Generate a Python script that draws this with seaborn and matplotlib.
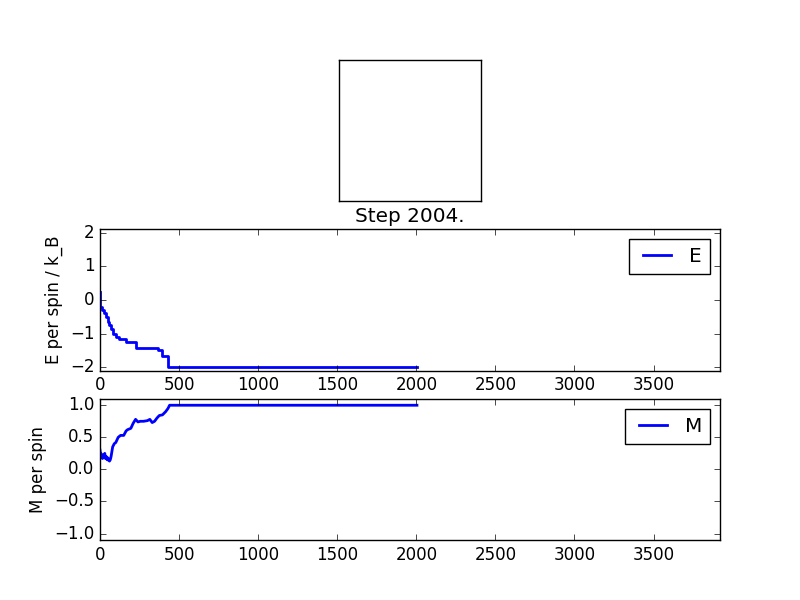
import numpy as np
import matplotlib
matplotlib.use("Agg")
import matplotlib.pyplot as plt
import seaborn as sns

e_steps = [0, 3, 12, 25, 35, 48, 60, 70, 82, 100, 122, 164, 225, 368, 392, 427, 2004]
e_values = [0.24, -0.2, -0.3, -0.4, -0.5, -0.65, -0.75, -0.85, -1.0, -1.09, -1.16,
            -1.24, -1.42, -1.5, -1.68, -2.0, -2.0]

# Magnetisation per spin
m_steps = [0, 5, 10, 15, 20, 25, 30, 35, 40, 45, 50, 55, 60, 65, 70, 80, 90, 100,
           115, 130, 150, 165, 175, 195, 210, 225, 240, 255, 275, 300, 315, 330,
           345, 360, 375, 395, 415, 430, 440, 2004]
m_values = [0.30, 0.20, 0.24, 0.17, 0.22, 0.18, 0.25, 0.17, 0.20, 0.15, 0.18, 0.14,
            0.13, 0.15, 0.20, 0.35, 0.40, 0.42, 0.50, 0.53, 0.53, 0.60, 0.62, 0.64,
            0.72, 0.78, 0.74, 0.75, 0.75, 0.76, 0.78, 0.73, 0.75, 0.80, 0.84, 0.85,
            0.90, 0.95, 1.0, 1.0]

# Final lattice: all spins up
spins = np.ones((20, 20))
step = 2004

plt.style.use("classic")
fig = plt.figure(figsize=(8, 6), dpi=100)

# lattice picture
ax1 = fig.add_subplot(3, 1, 1)
ax1.imshow(spins, cmap="gray", vmin=-1, vmax=1, interpolation="nearest")
ax1.set_xticks([])
ax1.set_yticks([])

# energy
ax2 = fig.add_subplot(3, 1, 2)
sns.lineplot(x=e_steps, y=e_values, ax=ax2, color="b", lw=2, label="E",
             drawstyle="steps-post")
ax2.set_title(f"Step {step}.")
ax2.set_ylabel("E per spin / k_B")
ax2.set_xlim(0, 3920)
ax2.set_ylim(-2.1, 2.1)
ax2.legend(loc="upper right", handletextpad=0.6)

# magnetisation
ax3 = fig.add_subplot(3, 1, 3)
sns.lineplot(x=m_steps, y=m_values, ax=ax3, color="b", lw=2, label="M")
ax3.set_ylabel("M per spin")
ax3.set_xlim(0, 3920)
ax3.set_ylim(-1.1, 1.1)
ax3.legend(loc="upper right", handletextpad=0.6)

fig.savefig("out.png", dpi=100, facecolor="white")
